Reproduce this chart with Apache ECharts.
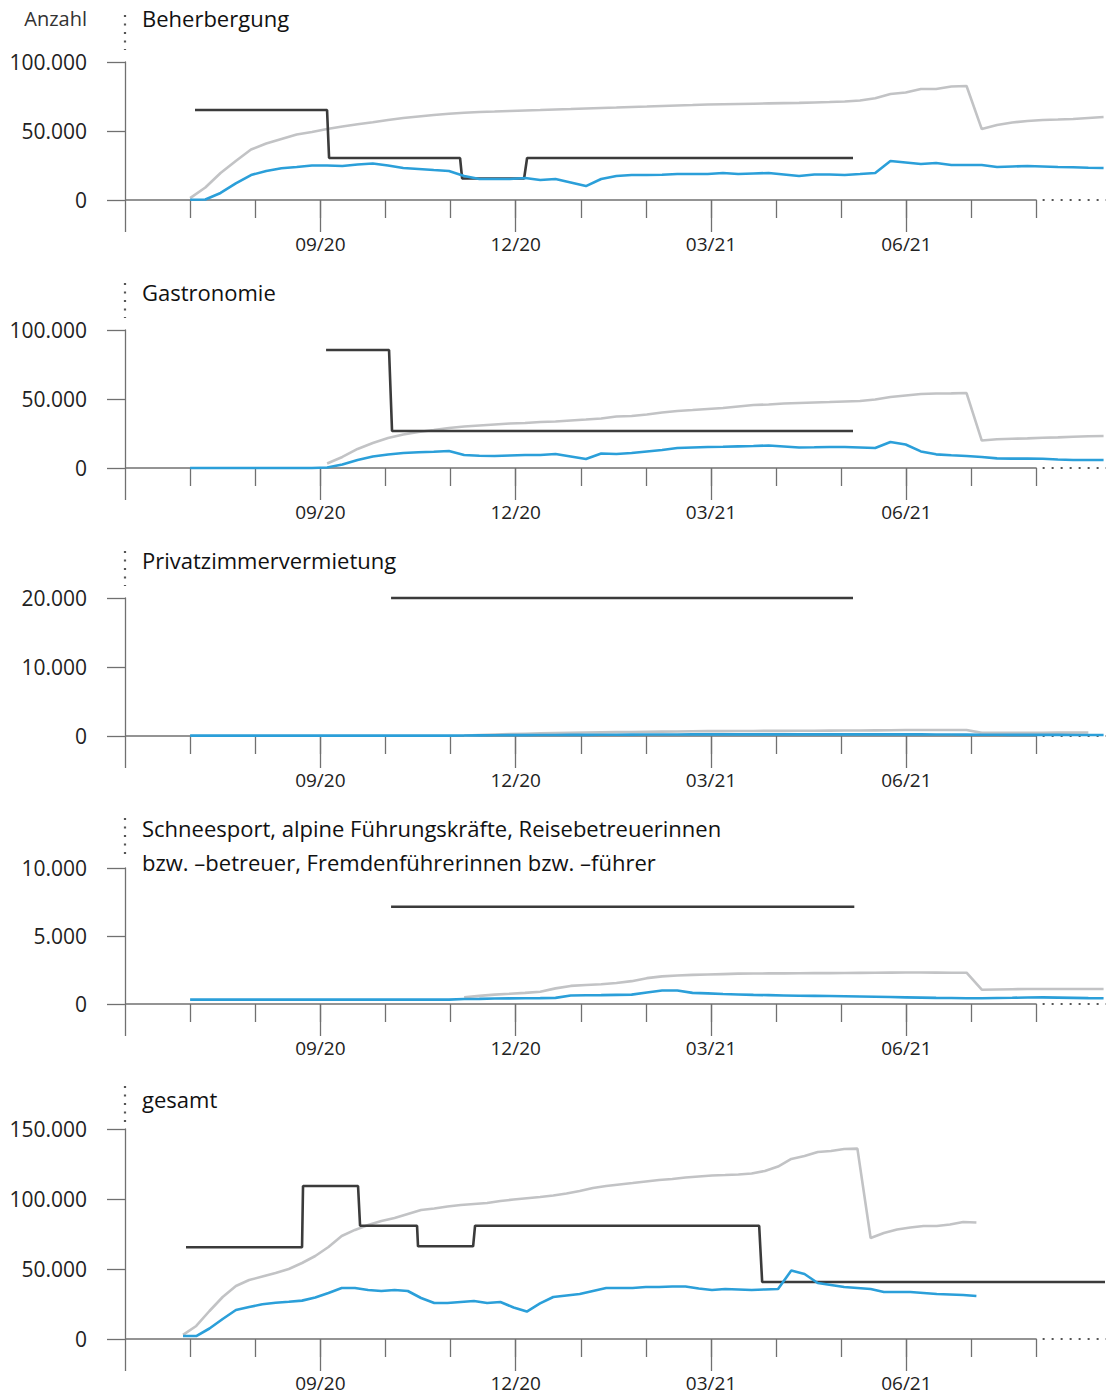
<!DOCTYPE html>
<html><head><meta charset="utf-8">
<script src="https://cdn.jsdelivr.net/npm/echarts@6/dist/echarts.min.js"></script>
<style>html,body{margin:0;padding:0;background:#fff}#c{width:1110px;height:1394px}</style>
</head><body><div id="c"></div>
<script>
// ---------- DATA ----------
// month index: 0 = 06/20, 1 = 07/20 ... 14 = 08/21
const majorMonths = [3, 6, 9, 12];
const monthLabels = ['09/20', '12/20', '03/21', '06/21'];
const minorMonths = [1,2,3,4,5,6,7,8,9,10,11,12,13,14];

const titles = [
  ['Beherbergung'],
  ['Gastronomie'],
  ['Privatzimmervermietung'],
  ['Schneesport, alpine Führungskräfte, Reisebetreuerinnen', 'bzw. \u2013betreuer, Fremdenführerinnen bzw. \u2013führer'],
  ['gesamt']
];
const yMaxes = [100000, 100000, 20000, 10000, 150000];
const ySteps = [50000, 50000, 10000, 5000, 50000];

// weekly series (61 weeks starting early July 2020)
const bhGray = [1400,9100,19600,28300,36600,40900,44200,47500,49300,51400,53300,54900,56300,58000,59400,60500,61600,62500,63200,63800,64100,64500,64900,65200,65600,65900,66300,66700,67000,67400,67700,68100,68500,68800,69200,69400,69600,69800,70000,70200,70400,70700,71000,71400,72100,73700,76800,77900,80400,80400,82200,82600,51400,54300,56200,57200,58000,58300,58700,59400,60100];
const bhBlue = [200,400,5100,12000,18100,21000,23000,23900,25000,25000,24600,25700,26400,25000,23200,22500,21700,21000,17400,15200,15200,15200,15900,14500,15200,12700,10100,15200,17400,18100,18100,18300,18800,18800,18800,19600,18800,19200,19600,18500,17400,18500,18500,18100,18800,19600,28300,27200,26100,26800,25400,25400,25400,23900,24300,24600,24300,23900,23700,23400,23200];
const gaGray = [null,null,null,null,null,null,null,null,null,3300,8000,13800,18100,21700,24300,26100,27500,29000,30100,30800,31500,32200,32600,33300,33700,34400,35100,35900,37300,37700,38800,40200,41300,42000,42800,43500,44600,45700,46000,46700,47100,47500,47800,48200,48500,49600,51400,52500,53600,54000,54100,54300,19900,20800,21200,21500,21900,22200,22600,23000,23200];
const gaBlue = [0,0,0,0,0,0,0,0,0,400,2500,5800,8300,9800,10900,11400,11800,12300,9400,8900,8700,9100,9400,9400,10100,8300,6500,10500,10100,10900,12000,13000,14500,14900,15200,15400,15700,15900,16300,15600,14900,15000,15200,15200,14900,14500,18800,17000,12000,9900,9200,8700,8000,7000,6800,6800,6700,6200,5800,5800,5800];
const pzGray = [null,null,null,null,null,null,null,null,null,null,null,null,null,null,null,null,null,null,50,150,220,280,330,380,420,460,500,530,560,590,620,640,660,680,700,710,720,730,740,750,760,770,780,790,800,820,840,860,870,880,880,880,450,460,470,480,480,490,490,500,null];
const pzBlue = [50,50,50,50,50,50,50,50,50,50,50,50,50,50,50,50,50,50,70,90,110,120,130,140,150,160,170,180,190,200,210,220,220,230,230,230,230,230,230,230,230,230,230,230,230,240,250,240,230,220,210,200,190,180,170,170,160,160,150,150,150];
const ssGray = [null,null,null,null,null,null,null,null,null,null,null,null,null,null,null,null,null,null,500,600,690,750,820,900,1150,1330,1400,1450,1550,1680,1900,2030,2100,2140,2170,2200,2230,2240,2250,2250,2260,2270,2270,2280,2290,2300,2310,2320,2320,2310,2300,2300,1050,1070,1090,1100,1100,1100,1100,1100,1100];
const ssBlue = [320,320,320,320,320,320,320,320,320,320,320,320,320,320,320,320,320,320,370,380,400,410,420,430,450,620,640,650,670,690,850,990,990,820,780,730,700,670,650,630,610,600,590,570,550,530,510,490,470,450,440,420,420,440,460,480,490,470,450,430,420];
const geGray = [2900,9300,20000,30000,37900,42100,44600,47100,50000,54300,59300,65700,73600,77900,81400,84300,86400,89300,92100,93200,94600,95700,96400,97100,98600,99600,100500,101400,102500,103900,105700,107900,109300,110400,111400,112500,113600,114300,115400,116100,116800,117100,117500,118200,120000,123200,128600,130700,133600,134300,135700,136000,72100,75700,78200,79600,80700,80700,81800,83600,83200];
const geBlue = [2100,2100,7500,14300,20700,22900,24800,25900,26600,27400,29600,32900,36400,36400,35000,34300,35000,34300,29300,25700,25700,26400,27100,25700,26400,22500,19600,25400,30000,31100,32100,34300,36400,36400,36400,37100,37100,37500,37500,36100,35000,35700,35400,35000,35400,35700,48900,46400,40000,38600,37100,36400,35700,33600,33600,33600,32900,32100,31800,31400,30700];

// quota step lines (month index, value)
const bhQuotaX = [1.075, 3.103, 3.134, 5.146, 5.177, 6.129, 6.175, 11.18];
const bhQuota  = [65200, 65200, 30400, 30400, 15600, 15600, 30400, 30400];
const gaQuotaX = [3.088, 4.055, 4.101, 11.18];
const gaQuota  = [85500, 85500, 26800, 26800];
const pzQuotaX = [4.086, 11.18];
const pzQuota  = [20000, 20000];
const ssQuotaX = [4.086, 11.2];
const ssQuota  = [7150, 7150];
const geQuotaX = [0.937, 2.719, 2.734, 3.579, 3.61, 4.485, 4.5, 5.346, 5.376, 9.739, 9.785, 15.05];
const geQuota  = [65500, 65500, 109300, 109300, 80900, 80900, 66200, 66200, 80900, 80900, 40700, 40700];

// ---------- LAYOUT ----------
const FONT = '"Open Sans", "Noto Sans", sans-serif';
const BLUE = '#2b9fd9', GRAY = '#c2c3c5', BLACK = '#3b3b3b', AXIS = '#707070', TEXT = '#222';
const LEFT = 125, RIGHT_PX = 1105;
const X_MAX = 15.05, LAST_TICK = 14;
const panels = [
  {gray: bhGray, blue: bhBlue, qx: bhQuotaX, q: bhQuota, top: 62, zero: 200, titleY: [18], dots: [15, 50], wStart: 1, wStep: 0.2338},
  {gray: gaGray, blue: gaBlue, qx: gaQuotaX, q: gaQuota, top: 330, zero: 468, titleY: [292], dots: [283, 318], wStart: 1, wStep: 0.2338},
  {gray: pzGray, blue: pzBlue, qx: pzQuotaX, q: pzQuota, top: 598, zero: 736, titleY: [560], dots: [551, 586], wStart: 1, wStep: 0.2338},
  {gray: ssGray, blue: ssBlue, qx: ssQuotaX, q: ssQuota, top: 868, zero: 1004, titleY: [828, 862], dots: [818, 856], wStart: 1, wStep: 0.2338},
  {gray: geGray, blue: geBlue, qx: geQuotaX, q: geQuota, top: 1129, zero: 1339, titleY: [1099], dots: [1086, 1122], wStart: 0.891, wStep: 0.20307}
];

function fmt(v) { return String(Math.round(v)).replace(/\B(?=(\d{3})+(?!\d))/g, '.'); }

const grid = [], xAxis = [], yAxis = [], series = [];
panels.forEach((p, k) => {
  grid.push({left: LEFT, width: RIGHT_PX - LEFT, top: p.top, height: p.zero - p.top, containLabel: false});
  yAxis.push({
    gridIndex: k, type: 'value', min: 0, max: yMaxes[k], interval: ySteps[k],
    axisLine: {show: true, lineStyle: {color: AXIS, width: 1.3}},
    axisTick: {show: true, length: 18, lineStyle: {color: AXIS, width: 1.3}},
    splitLine: {show: false},
    axisLabel: {margin: 38, fontSize: 21, color: TEXT, fontFamily: FONT, formatter: fmt}
  });
  // minor month ticks
  xAxis.push({
    gridIndex: k, type: 'value', min: 0, max: X_MAX, interval: 1, position: 'bottom',
    axisLine: {show: false, onZero: false},
    axisTick: {show: true, length: 18, customValues: minorMonths, lineStyle: {color: AXIS, width: 1.3}},
    axisLabel: {show: false}, splitLine: {show: false}
  });
  // major month ticks + labels
  xAxis.push({
    gridIndex: k, type: 'value', min: 0, max: X_MAX, interval: 3, position: 'bottom',
    axisLine: {show: false, onZero: false},
    axisTick: {show: true, length: 32, customValues: [0].concat(majorMonths), lineStyle: {color: AXIS, width: 1.3}},
    axisLabel: {show: true, customValues: majorMonths, margin: 34, fontSize: 19, color: TEXT, fontFamily: FONT,
      formatter: v => { const i = majorMonths.indexOf(Math.round(v)); return i >= 0 ? monthLabels[i] : ''; }},
    splitLine: {show: false}
  });
  const toPts = arr => arr.map((v, i) => v == null ? null : [p.wStart + i * p.wStep, v]).filter(d => d);
  const common = {type: 'line', xAxisIndex: 2 * k, yAxisIndex: k, symbol: 'none', clip: false, silent: true, animation: false, smooth: false};
  series.push(Object.assign({}, common, {name: 'gray' + k, data: toPts(p.gray), lineStyle: {color: GRAY, width: 2.6}, z: 2}));
  series.push(Object.assign({}, common, {name: 'black' + k, data: p.qx.map((x, i) => [x, p.q[i]]), lineStyle: {color: BLACK, width: 2.6}, z: 3}));
  series.push(Object.assign({}, common, {name: 'blue' + k, data: toPts(p.blue), lineStyle: {color: BLUE, width: 2.6}, z: 4}));
});

const chart = echarts.init(document.getElementById('c'), null, {renderer: 'svg'});
chart.setOption({animation: false, backgroundColor: '#fff', grid, xAxis, yAxis, series});

// decorations: solid axis line up to last month tick, dotted extension, dotted y-extension, titles
const graphic = [];
panels.forEach((p, k) => {
  const x0 = chart.convertToPixel({xAxisIndex: 2 * k}, 0);
  const xEnd = chart.convertToPixel({xAxisIndex: 2 * k}, LAST_TICK);
  const xMax = chart.convertToPixel({xAxisIndex: 2 * k}, X_MAX);
  const y0 = chart.convertToPixel({yAxisIndex: k}, 0);
  graphic.push({type: 'line', silent: true, z: 1, shape: {x1: x0, y1: y0, x2: xEnd, y2: y0},
    style: {stroke: AXIS, lineWidth: 1.3}});
  graphic.push({type: 'line', silent: true, shape: {x1: xEnd + 6, y1: y0, x2: xMax + 1, y2: y0},
    style: {stroke: '#555', lineWidth: 2.2, lineDash: [2, 7]}});
  graphic.push({type: 'line', silent: true, shape: {x1: x0, y1: p.dots[0], x2: x0, y2: p.dots[1]},
    style: {stroke: '#555', lineWidth: 2.2, lineDash: [2, 6.5]}});
  titles[k].forEach((t, j) => graphic.push({type: 'text', silent: true, x: x0 + 17, y: p.titleY[j],
    style: {text: t, fill: '#111', font: '22px ' + FONT, textVerticalAlign: 'middle', textAlign: 'left'}}));
});
graphic.push({type: 'text', silent: true, x: 87, y: 18,
  style: {text: 'Anzahl', fill: '#333', font: '20px ' + FONT, textVerticalAlign: 'middle', textAlign: 'right'}});
chart.setOption({graphic});
</script></body></html>
